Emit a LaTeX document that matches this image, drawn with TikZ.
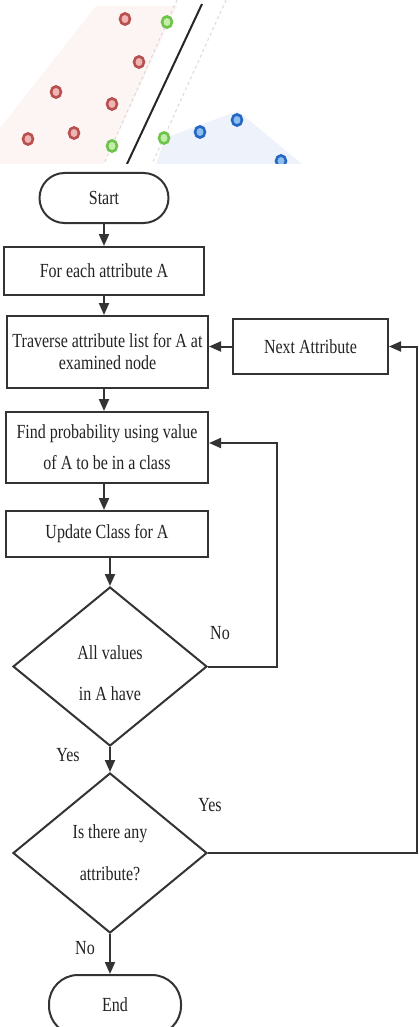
\documentclass[tikz,border=0pt]{standalone}
\usepackage{fontspec}
\setmainfont{Liberation Serif}[FakeStretch=0.8]
\usetikzlibrary{shapes.geometric,arrows.meta}

\definecolor{ink}{HTML}{333333}
\definecolor{txt}{HTML}{222222}
\definecolor{pinkbg}{HTML}{FDF4F4}
\definecolor{bluebg}{HTML}{EEF3FB}
\definecolor{redring}{RGB}{184,80,80}
\definecolor{redfill}{RGB}{240,180,180}
\definecolor{greenring}{RGB}{110,196,74}
\definecolor{greenfill}{RGB}{196,238,168}
\definecolor{bluering}{RGB}{36,104,196}
\definecolor{bluefill}{RGB}{140,190,240}

\begin{document}
\begin{tikzpicture}[x=1pt,y=-1pt,
  every node/.style={font=\fontsize{20}{24}\selectfont, text=txt},
  box/.style={draw=ink, line width=2pt, rectangle, inner sep=0pt, align=center},
  term/.style={box, rounded corners=25pt},
  dec/.style={draw=ink, line width=2pt, diamond, inner sep=0pt, aspect=1.22, align=center},
  flow/.style={draw=ink, line width=2pt, -{Triangle[width=10pt,length=12pt]}},
  lbl/.style={inner sep=0pt},
  rdot/.style={draw=redring, fill=redfill, line width=2.6pt},
  gdot/.style={draw=greenring, fill=greenfill, line width=2.6pt},
  bdot/.style={draw=bluering, fill=bluefill, line width=2.6pt},
  margin/.style={draw=black!15, line width=1pt, dashed}]

\useasboundingbox (0,0) rectangle (418,1027);

% ---- scatter sketch of a linear separator ----
\begin{scope}
  \clip (0,0) rectangle (418,164);
  \fill[pinkbg] (0,164) -- (0,128) -- (96,6) -- (177,6) -- (104,164) -- cycle;
  \fill[bluebg] (156,164) -- (165,138) -- (238,111) -- (302,164) -- cycle;
  \draw[margin] (177,0) -- (104,164);
  \draw[margin] (226,0) -- (152,164);
  \draw[black!85, line width=2pt] (202,4) -- (127,164);
  \foreach \p in {(125,19),(139,62),(56,92),(112,104),(74,133),(28,139)}
    \filldraw[rdot] \p ellipse[x radius=5, y radius=5.6];
  \foreach \p in {(167,22),(112,146),(164,138)}
    \filldraw[gdot] \p ellipse[x radius=5, y radius=5.6];
  \foreach \p in {(200,132),(237,120),(281,161)}
    \filldraw[bdot] \p ellipse[x radius=5, y radius=5.6];
\end{scope}

% ---- flowchart ----
\node[term, minimum width=129pt, minimum height=50pt] (start) at (104,198) {Start};
\node[box, minimum width=200pt, minimum height=48pt] (each) at (104,271) {For each attribute A};
\node[box, minimum width=201pt, minimum height=72pt, font=\fontsize{20}{22}\selectfont] (trav) at (107.5,352)
  {Traverse attribute list for A at\\examined node};
\node[box, minimum width=155pt, minimum height=55pt] (next) at (310.5,346.5) {Next Attribute};
\node[box, minimum width=202pt, minimum height=71pt, font=\fontsize{20}{31}\selectfont] (find) at (107,447.5)
  {Find probability using value\\of A to be in a class};
\node[box, minimum width=202pt, minimum height=46pt] (upd) at (107,534) {Update Class for A};
\node[dec, minimum width=194pt, minimum height=159pt] (all) at (110,666.5) {};
\node[lbl, font=\fontsize{20}{41}\selectfont, align=center] (allt) at (110,673) {All values\\in A have};
\node[dec, minimum width=194pt, minimum height=160pt, font=\fontsize{20}{42}\selectfont] (any) at (110,853)
  {Is there any\\attribute?};
\node[term, minimum width=132pt, minimum height=60pt, rounded corners=29pt] (end) at (115,1005) {End};

% branch labels
\node[lbl] (nolbl) at (220,633) {No};
\node[lbl] (yeslbl) at (68,755) {Yes};
\node[lbl] (yeslbl2) at (210,805) {Yes};
\node[lbl] (nolbl2) at (85,948) {No};

% main sequence
\draw[flow] (start.south) -- (start.south |- each.north);
\draw[flow] (each.south) -- (each.south |- trav.north);
\draw[flow] (each.south |- trav.south) -- (each.south |- find.north);
\draw[flow] (each.south |- find.south) -- (each.south |- upd.north);
\draw[flow] (all.north |- upd.south) -- (all.north);
\draw[flow] (all.south) -- (any.north);
\draw[flow] (any.south) -- (any.south |- end.north);
\draw[flow] (next.west) -- (next.west -| trav.east);

% "No" loop back to the probability step
\coordinate (noA) at (277,666.5);
\coordinate (noB) at (277,443);
\draw[flow] (all.east) -- (noA) -- (noB) -- (noB -| find.east);

% "Yes" loop to the next attribute
\coordinate (yesA) at (417,853);
\coordinate (yesB) at (next.east -| yesA);
\draw[flow] (any.east) -- (yesA) -- (yesB) -- (next.east);
\end{tikzpicture}
\end{document}
